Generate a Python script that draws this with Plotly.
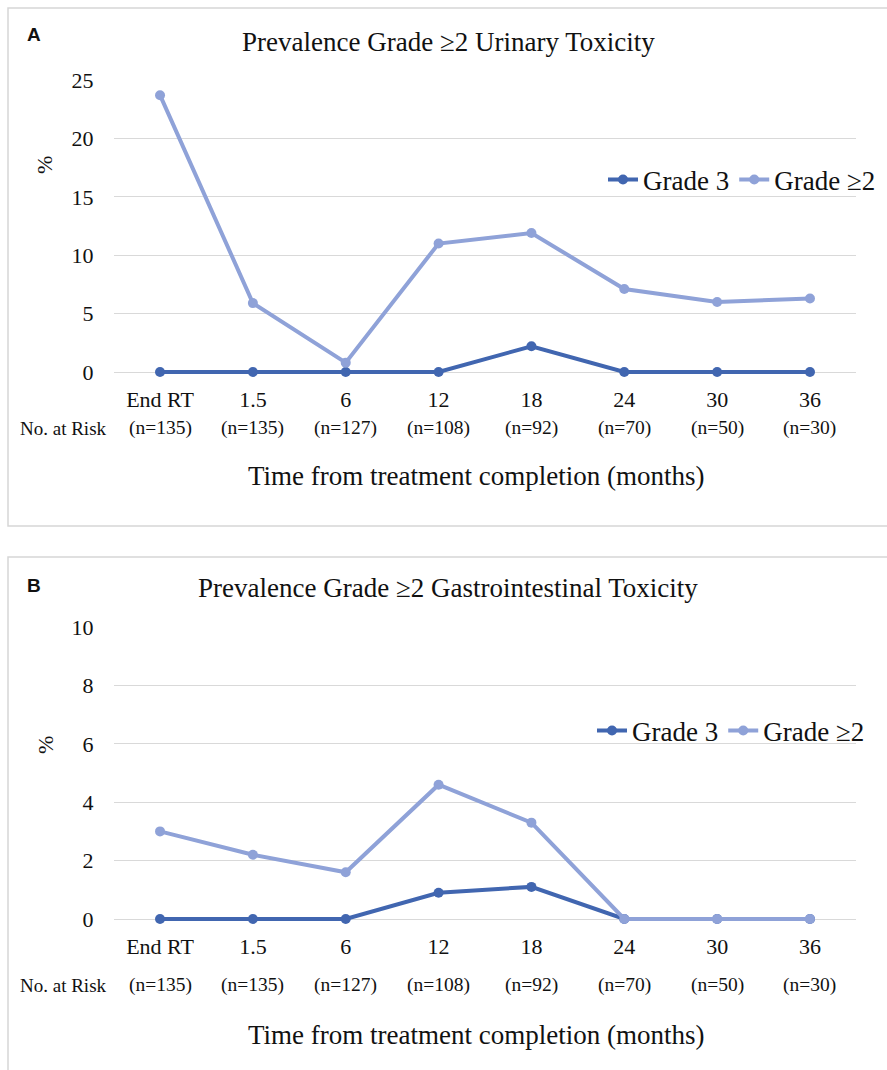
import plotly.graph_objects as go

categories = ["End RT", "1.5", "6", "12", "18", "24", "30", "36"]
at_risk = ["(n=135)", "(n=135)", "(n=127)", "(n=108)", "(n=92)", "(n=70)", "(n=50)", "(n=30)"]

uri_grade3 = [0, 0, 0, 0, 2.2, 0, 0, 0]
uri_grade2 = [23.7, 5.9, 0.8, 11.0, 11.9, 7.1, 6.0, 6.3]

gi_grade3 = [0, 0, 0, 0.9, 1.1, 0, 0, 0]
gi_grade2 = [3.0, 2.2, 1.6, 4.6, 3.3, 0, 0, 0]

title_a = "Prevalence Grade \u22652 Urinary Toxicity"
title_b = "Prevalence Grade \u22652 Gastrointestinal Toxicity"
x_title = "Time from treatment completion (months)"
row_label = "No. at Risk"

DARK = "#4166B0"
LIGHT = "#8FA2D8"
SERIF = "Liberation Serif"
INK = "#111111"
W, H = 887, 1070


def py(p):
    return 1 - p / H


def px(p):
    return p / W


fig = go.Figure()

for xa, ya, g3, g2, leg in [("x", "y", uri_grade3, uri_grade2, "legend"),
                            ("x2", "y2", gi_grade3, gi_grade2, "legend2")]:
    fig.add_trace(go.Scatter(x=categories, y=g3, xaxis=xa, yaxis=ya, mode="lines+markers",
                             name="Grade 3", line=dict(color=DARK, width=4),
                             marker=dict(color=DARK, size=10), legend=leg, cliponaxis=False))
    fig.add_trace(go.Scatter(x=categories, y=g2, xaxis=xa, yaxis=ya, mode="lines+markers",
                             name="Grade \u22652", line=dict(color=LIGHT, width=4),
                             marker=dict(color=LIGHT, size=10), legend=leg, cliponaxis=False))

# pixel geometry: A  y=25 at 80px, y=0 at 372px ; B  y=10 at 627px, y=0 at 919px
a_ppu = (372 - 80) / 25.0
b_ppu = (919 - 627) / 10.0
a_pad = 0.4
b_pad = 0.16

xdom = [113.6 / W, 856.4 / W]
common_x = dict(type="category", categoryorder="array", categoryarray=categories,
                range=[-0.5, 7.5], showgrid=False, zeroline=False, showline=False,
                tickfont=dict(family=SERIF, size=22, color=INK), ticks="",
                ticklabelstandoff=7, domain=xdom, automargin=False)
common_y = dict(showgrid=True, gridcolor="#d9d9d9", gridwidth=1.2, zeroline=False,
                showline=False, tickfont=dict(family=SERIF, size=22, color=INK),
                ticks="", ticklabelstandoff=19, automargin=False)

fig.update_layout(
    width=W, height=H, margin=dict(l=0, r=0, t=0, b=0, autoexpand=False),
    paper_bgcolor="white", plot_bgcolor="white",
    xaxis=dict(**common_x, anchor="y"),
    yaxis=dict(**common_y, domain=[py(372 + a_pad * a_ppu), py(80)], range=[-a_pad, 25],
               tickvals=[0, 5, 10, 15, 20, 25], anchor="x"),
    xaxis2=dict(**common_x, anchor="y2"),
    yaxis2=dict(**common_y, domain=[py(919 + b_pad * b_ppu), py(627)], range=[-b_pad, 10],
                tickvals=[0, 2, 4, 6, 8, 10], anchor="x2"),
    legend=dict(orientation="h", x=px(603), y=py(180), xanchor="left", yanchor="middle",
                font=dict(family=SERIF, size=27, color=INK), bgcolor="rgba(0,0,0,0)"),
    legend2=dict(orientation="h", x=px(592), y=py(731), xanchor="left", yanchor="middle",
                 font=dict(family=SERIF, size=27, color=INK), bgcolor="rgba(0,0,0,0)"),
    showlegend=True,
)

shapes = [
    dict(type="rect", xref="paper", yref="paper", x0=px(8), x1=1.01, y0=py(526), y1=py(8),
         line=dict(color="#d6d6d6", width=1.5), fillcolor="rgba(0,0,0,0)", layer="below"),
    dict(type="rect", xref="paper", yref="paper", x0=px(8), x1=1.01, y0=-0.01, y1=py(557),
         line=dict(color="#d6d6d6", width=1.5), fillcolor="rgba(0,0,0,0)", layer="below"),
]
fig.update_layout(shapes=shapes)

annotations = []
for ttl, ty, letter, ly, nrow_y, xt_y, pct_y, xref in [
        (title_a, 42, "A", 35, 428, 476, 165, "x"),
        (title_b, 588, "B", 585, 985, 1035, 745, "x2")]:
    annotations.append(dict(text=ttl, x=px(448), y=py(ty), xref="paper", yref="paper",
                            xanchor="center", yanchor="middle", showarrow=False,
                            font=dict(family=SERIF, size=27, color=INK)))
    annotations.append(dict(text="<b>" + letter + "</b>", x=px(34), y=py(ly), xref="paper", yref="paper",
                            xanchor="center", yanchor="middle", showarrow=False,
                            font=dict(family="Liberation Sans", size=19, color=INK)))
    annotations.append(dict(text=x_title, x=px(476), y=py(xt_y), xref="paper", yref="paper",
                            xanchor="center", yanchor="middle", showarrow=False,
                            font=dict(family=SERIF, size=27, color=INK)))
    annotations.append(dict(text="%", x=px(45), y=py(pct_y), xref="paper", yref="paper",
                            xanchor="center", yanchor="middle", textangle=-90, showarrow=False,
                            font=dict(family=SERIF, size=22, color=INK)))
    annotations.append(dict(text=row_label, x=px(63), y=py(nrow_y), xref="paper", yref="paper",
                            xanchor="center", yanchor="middle", showarrow=False,
                            font=dict(family=SERIF, size=19, color=INK)))
    for i, n in enumerate(at_risk):
        annotations.append(dict(text=n, x=i, y=py(nrow_y), xref=xref, yref="paper",
                                xanchor="center", yanchor="middle", showarrow=False,
                                font=dict(family=SERIF, size=19.5, color=INK)))
fig.update_layout(annotations=annotations)

fig.write_html("out.html", config={"displayModeBar": False},
               post_script="document.body.style.margin='0px';")
